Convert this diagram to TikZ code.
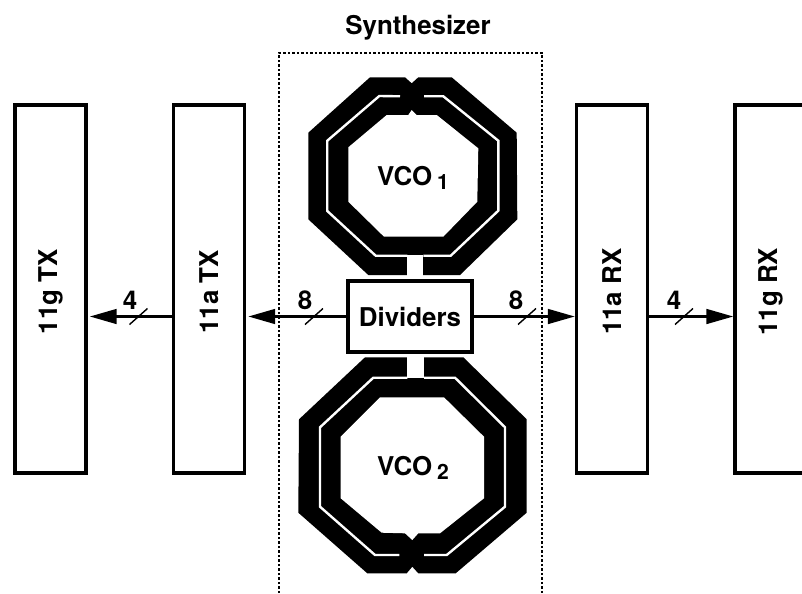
\documentclass[tikz,border=0pt]{standalone}
\usepackage{fontspec}
\setmainfont{TeX Gyre Heros}
\usetikzlibrary{arrows.meta, positioning, calc}
\newcommand{\vcolabel}[1]{VCO\kern3.5pt\raisebox{-0.16em}{\fontsize{15}{17}\selectfont #1}}
\newcommand{\sidelabel}[1]{\rotatebox{90}{#1\kern4pt}}
\begin{document}
\begin{tikzpicture}[x=0.025cm, y=-0.025cm,
  font=\fontsize{18.4}{22}\selectfont\bfseries,
  blk/.style={draw, line width=2.4pt, fill=white, align=center, inner sep=0pt,
              minimum width=1.78cm, minimum height=9.2cm},
  divbox/.style={draw, line width=2.4pt, fill=white, inner sep=0pt,
              minimum width=3.1cm, minimum height=1.78cm},
  synth/.style={line width=0.8pt, dash pattern=on 1.6pt off 1.6pt},
  coil/.style={fill=black, draw=none},
  hole/.style={fill=white, draw=none},
  slit/.style={draw=white, line width=1.7pt},
  a/.style={-{Triangle[length=19pt, width=10.5pt]}, line width=1.5pt, draw=black},
  tick/.style={line width=1pt, draw=black},
  lb/.style={inner sep=0pt}]
  \useasboundingbox (0,0) rectangle (802,593);
  % ---- Synthesizer frame, open at the bottom edge
  \draw[synth] (279,593) -- (279,53) -- (542,53) -- (542,593);
  \node[lb] (title) at (418,28) {Synthesizer};
  % ---- VCO 1 (crossing at the top)
  \fill[coil] (368.3,275) -- (308.3,219.3) -- (308.3,132.7) -- (370,77.3) -- (405,77.3) -- (411.7,83.3)
    -- (418.3,77.3) -- (451.7,77.3) -- (516.7,132.7) -- (517.3,219.3) -- (460,275) -- cycle;
  \fill[hole] (348.3,201.7) -- (348.3,147.3) -- (386.7,115) -- (408.3,115) -- (411.7,110) -- (416.7,115)
    -- (436.7,115) -- (478.3,148.3) -- (477.3,201.7) -- (443.3,236.7) -- (384,236.7) -- cycle;
  \fill[hole] (407.3,255) rectangle (423.3,276);
  \draw[slit] (400,96.3) -- (379.3,96) -- (327.3,140.7) -- (327.3,211) -- (375.7,255.7) -- (407.3,255.7);
  \draw[slit] (424,96.3) -- (443.3,96.3) -- (498.3,140.7) -- (498.3,210.7) -- (450.7,255.7) -- (423.3,255.7);
  \node[lb] (vcoA) at (413,178) {\vcolabel{1}};
  % ---- VCO 2 (crossing at the bottom)
  \fill[coil] (365,357.3) -- (299,419.3) -- (298.3,512.7) -- (367.3,573.3) -- (406.7,573.3) -- (412.3,566.7)
    -- (418.3,573.3) -- (455.7,573.3) -- (526.7,512.7) -- (526.7,419.3) -- (463.3,357.3) -- cycle;
  \fill[hole] (340.7,436.7) -- (380,397.3) -- (444,397.3) -- (484,436.7) -- (484,498.3) -- (440,533.3)
    -- (418.3,533.3) -- (412.3,540) -- (405,533.3) -- (381.7,532.7) -- (340.7,498.3) -- cycle;
  \fill[hole] (406.7,356) rectangle (424,378);
  \draw[slit] (407.3,377.7) -- (373.3,377.7) -- (320,427.3) -- (320,506.7) -- (375,555) -- (399.3,555);
  \draw[slit] (424,377.7) -- (455,377.7) -- (505,427.3) -- (505,506.7) -- (446.7,555) -- (424,555);
  \node[lb] (vcoB) at (413,468) {\vcolabel{2}};
  % ---- Blocks
  \node[divbox] (div) at (410,316.5) {Dividers};
  \node[blk] (gTX) at (50.5,289) {\sidelabel{11g TX}};
  \node[blk] (aTX) at (209,289) {\sidelabel{11a TX}};
  \node[blk] (aRX) at (612,289) {\sidelabel{11a RX}};
  \node[blk] (gRX) at (770.5,289) {\sidelabel{11g RX}};
  % ---- Buses
  \draw[a, shorten >=1.5pt] (div.west) -- (aTX.east |- div.west);
  \draw[a, shorten >=1.5pt] (aTX.west |- div.west) -- (gTX.east |- div.west);
  \draw[a] (div.east) -- (aRX.west |- div.east);
  \draw[a] (aRX.east |- div.east) -- (gRX.west |- div.east);
  \coordinate (busA) at (138.5,316.5);
  \coordinate (busB) at (314,316.5);
  \coordinate (busC) at (527,316.5);
  \coordinate (busD) at (684,316.5);
  \foreach \bus in {busA,busB,busC,busD}
    \draw[tick] ($(\bus)+(-9,8)$) -- ($(\bus)+(9,-8)$);
  \node[lb] (nA) at (130,300) {4};
  \node[lb] (nB) at (305,300) {8};
  \node[lb] (nC) at (516,300) {8};
  \node[lb] (nD) at (674,300) {4};
\end{tikzpicture}
\end{document}
